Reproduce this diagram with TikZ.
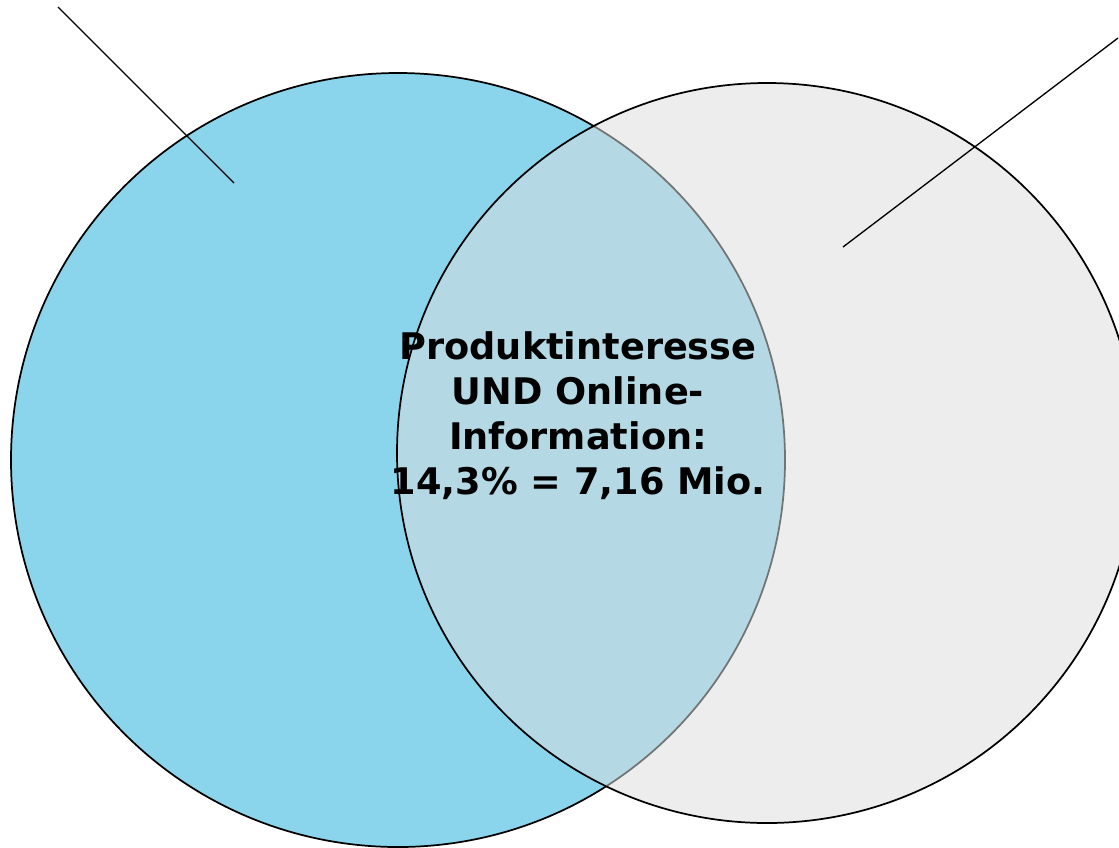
\documentclass[tikz,border=0pt]{standalone}
\usepackage{fontspec}
\setmainfont{DejaVu Sans}
\definecolor{himmel}{HTML}{8AD5EC}
\definecolor{hellgrau}{HTML}{EDEDED}
\definecolor{schnittfarbe}{HTML}{B4D9E4}
\begin{document}
\begin{tikzpicture}[x=0.75pt,y=-0.75pt,line width=1.3pt,
  kreis/.style={circle,inner sep=0pt}]
\useasboundingbox (0,0) rectangle (1119,847);
\node[kreis,draw=black,fill=himmel,minimum size=580.5pt] (produkt) at (398,460) {};
\node[kreis,fill=hellgrau,minimum size=555pt] (online) at (767,453) {};
\begin{scope}
  \clip (produkt.center) circle (290.25pt);
  \fill[schnittfarbe] (online.center) circle (277.5pt);
\end{scope}
\begin{scope}
  \clip (online.center) circle (277.5pt);
  \draw[black!55] (produkt.center) circle (290.25pt);
\end{scope}
\draw (online.center) circle (277.5pt);
\node[align=center,font=\bfseries\fontsize{27.5}{33.8}\selectfont] (schnitt) at (578,416)
  {Produktinteresse\\UND Online-\\Information:\\14,3\% = 7,16 Mio.};
\coordinate (p1) at (58,7);
\coordinate (p2) at (234,183);
\coordinate (o1) at (1118,38);
\coordinate (o2) at (843,247);
\draw[line width=1pt] (p1) -- (p2);
\draw[line width=1pt] (o1) -- (o2);
\end{tikzpicture}
\end{document}
